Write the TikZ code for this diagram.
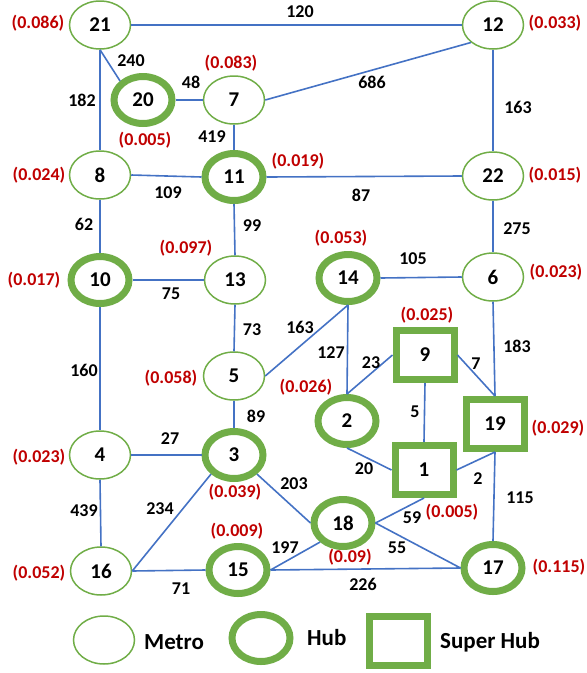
\documentclass[tikz,border=0pt]{standalone}
\usepackage{fontspec}
\setmainfont{Carlito}
\usepackage{xcolor}
\usetikzlibrary{shapes.geometric}
\definecolor{hubgreen}{RGB}{112,173,71}
\definecolor{linkblue}{RGB}{68,114,196}
\definecolor{probred}{RGB}{192,0,0}
\tikzset{%
	metro/.style    = {draw=hubgreen, ellipse, line width=1.5pt, minimum width=61pt, minimum height=48pt, inner sep=0pt, font=\fontsize{21}{25}\selectfont\bfseries},
	hub/.style      = {metro, line width=7pt, minimum width=58pt, minimum height=47pt},
	superhub/.style = {draw=hubgreen, rectangle, line width=7pt, minimum width=58pt, minimum height=49pt, inner sep=0pt, font=\fontsize{21}{25}\selectfont\bfseries},
	link/.style     = {draw=linkblue, line width=1.6pt},
	wt/.style       = {inner sep=0pt, font=\fontsize{18}{21}\selectfont\bfseries},
	prob/.style     = {inner sep=0pt, text=probred, font=\fontsize{18}{21}\selectfont\bfseries},
	legendtext/.style = {inner sep=0pt, anchor=west, font=\fontsize{23}{27}\selectfont\bfseries},
}
\begin{document}
\begin{tikzpicture}[x=1pt,y=-1pt]
	\useasboundingbox (0,0) rectangle (587,673);
	% cities
	\node[metro]    (21) at (100,25)  {21};
	\node[metro]    (12) at (493,25)  {12};
	\node[hub]      (20) at (143,100) {20};
	\node[metro]    (7)  at (234,100) {7};
	\node[metro]    (8)  at (100,175) {8};
	\node[hub]      (11) at (234,177) {11};
	\node[metro]    (22) at (493,176) {22};
	\node[hub]      (10) at (100,280) {10};
	\node[metro]    (13) at (235,280) {13};
	\node[hub]      (14) at (348,278) {14};
	\node[metro]    (6)  at (493,277) {6};
	\node[superhub] (9)  at (425,355) {9};
	\node[metro]    (5)  at (234,376) {5};
	\node[hub]      (2)  at (347,421) {2};
	\node[superhub] (19) at (495,424) {19};
	\node[metro]    (4)  at (100,455) {4};
	\node[hub]      (3)  at (234,455) {3};
	\node[superhub] (1)  at (424,470) {1};
	\node[hub]      (18) at (343,523) {18};
	\node[metro]    (16) at (101,571) {16};
	\node[hub]      (15) at (238,570) {15};
	\node[hub]      (17) at (493,568) {17};
	% links
	\draw[link] (21.east) -- (12.west);
	\draw[link] (21.south) -- (20.north west);
	\draw[link] (21.south) -- (8.north);
	\draw[link] (20.east) -- (7.west);
	\draw[link] (7.east) -- (12.south west);
	\draw[link] (7.south) -- (11.north);
	\draw[link] (12.south) -- (22.north);
	\draw[link] (8.east) -- (11.west);
	\draw[link] (11.east) -- (22.west);
	\draw[link] (8.south) -- (10.north);
	\draw[link] (11.south) -- (13.north);
	\draw[link] (22.south) -- (6.north);
	\draw[link] (10.east) -- (13.west);
	\draw[link] (14.east) -- (6.west);
	\draw[link] (13.south) -- (5.north);
	\draw[link] (5.east) -- (14.south);
	\draw[link] (14.south) -- (2.north);
	\draw[link] (9.west) -- (2.north);
	\draw[link] (9.east) -- (19.north);
	\draw[link] (6.south) -- (19.north);
	\draw[link] (10.south) -- (4.north);
	\draw[link] (5.south) -- (3.north);
	\draw[link] (9.south) -- (1.north);
	\draw[link] (4.east) -- (3.west);
	\draw[link] (2.south) -- (1.west);
	\draw[link] (1.east) -- (19.south);
	\draw[link] (3.south east) -- (18.west);
	\draw[link] (3.south west) -- (16.east);
	\draw[link] (1.south) -- (18.east);
	\draw[link] (18.east) -- (17.west);
	\draw[link] (19.south) -- (17.north);
	\draw[link] (4.south) -- (16.north);
	\draw[link] (16.east) -- (15.west);
	\draw[link] (15.east) -- (18.south west);
	\draw[link] (15.east) -- (17.west);
	% distances
	\node[wt] (w21-12) at (300,12)  {120};
	\node[wt] (w21-20) at (131,61)  {240};
	\node[wt] (w21-8)  at (82,100)  {182};
	\node[wt] (w20-7)  at (191,82)  {48};
	\node[wt] (w7-12)  at (372,82)  {686};
	\node[wt] (w12-22) at (518,107) {163};
	\node[wt] (w7-11)  at (212,137) {419};
	\node[wt] (w8-11)  at (168,193) {109};
	\node[wt] (w11-22) at (361,195) {87};
	\node[wt] (w8-10)  at (84,224)  {62};
	\node[wt] (w11-13) at (252,226) {99};
	\node[wt] (w22-6)  at (517,229) {275};
	\node[wt] (w14-6)  at (413,259) {105};
	\node[wt] (w10-13) at (171,294) {75};
	\node[wt] (w13-5)  at (252,330) {73};
	\node[wt] (w5-14)  at (300,327) {163};
	\node[wt] (w14-2)  at (331,353) {127};
	\node[wt] (w9-2)   at (371,363) {23};
	\node[wt] (w9-19)  at (476,364) {7};
	\node[wt] (w6-19)  at (517,346) {183};
	\node[wt] (w10-4)  at (84,370)  {160};
	\node[wt] (w5-3)   at (256,416) {89};
	\node[wt] (w9-1)   at (415,412) {5};
	\node[wt] (w4-3)   at (170,439) {27};
	\node[wt] (w2-1)   at (364,469) {20};
	\node[wt] (w1-19)  at (478,479) {2};
	\node[wt] (w3-18)  at (294,484) {203};
	\node[wt] (w19-17) at (520,498) {115};
	\node[wt] (w4-16)  at (84,511)  {439};
	\node[wt] (w3-16)  at (160,509) {234};
	\node[wt] (w1-18)  at (412,518) {59};
	\node[wt] (w15-18) at (285,548) {197};
	\node[wt] (w18-17) at (397,548) {55};
	\node[wt] (w16-15) at (181,589) {71};
	\node[wt] (w15-17) at (363,584) {226};
	% probabilities
	\node[prob] (p21) at (38,23)   {(0.086)};
	\node[prob] (p12) at (555,23)  {(0.033)};
	\node[prob] (p7)  at (231,63)  {(0.083)};
	\node[prob] (p20) at (145,140) {(0.005)};
	\node[prob] (p8)  at (39,175)  {(0.024)};
	\node[prob] (p11) at (298,161) {(0.019)};
	\node[prob] (p22) at (555,175) {(0.015)};
	\node[prob] (p10) at (34,280)  {(0.017)};
	\node[prob] (p13) at (186,248) {(0.097)};
	\node[prob] (p14) at (341,238) {(0.053)};
	\node[prob] (p6)  at (556,272) {(0.023)};
	\node[prob] (p9)  at (427,315) {(0.025)};
	\node[prob] (p5)  at (171,378) {(0.058)};
	\node[prob] (p2)  at (306,387) {(0.026)};
	\node[prob] (p19) at (558,428) {(0.029)};
	\node[prob] (p4)  at (39,457)  {(0.023)};
	\node[prob] (p3)  at (235,492) {(0.039)};
	\node[prob] (p15) at (237,531) {(0.009)};
	\node[prob] (p1)  at (452,512) {(0.005)};
	\node[prob] (p18) at (350,557) {(0.09)};
	\node[prob] (p17) at (559,567) {(0.115)};
	\node[prob] (p16) at (39,573)  {(0.052)};
	% legend
	\node[metro]    (keymetro) at (104,640) {};
	\node[legendtext] (tmetro) at (144,642) {Metro};
	\node[hub]      (keyhub)   at (261,638) {};
	\node[legendtext] (thub)   at (307,638) {Hub};
	\node[superhub] (keysuper) at (398,641) {};
	\node[legendtext] (tsuper) at (440,642) {Super Hub};
\end{tikzpicture}
\end{document}
